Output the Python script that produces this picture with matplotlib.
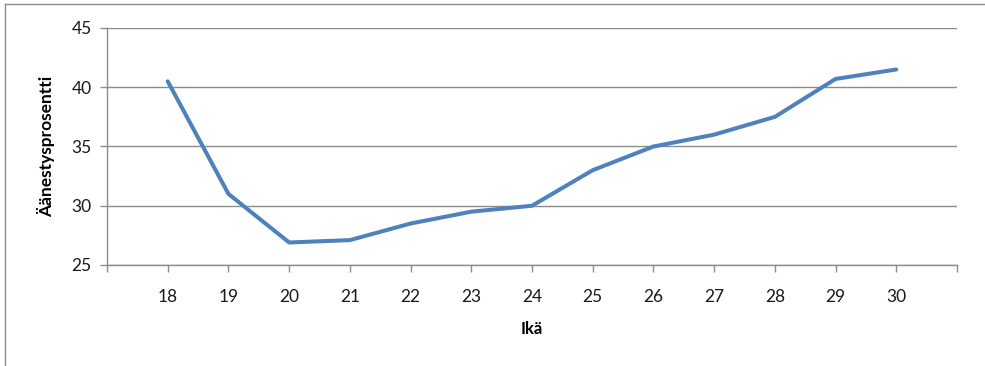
import numpy as np
import matplotlib.pyplot as plt
from matplotlib.lines import Line2D

# turnout by age
ages = [18, 19, 20, 21, 22, 23, 24, 25, 26, 27, 28, 29, 30]
turnout = [40.5, 31.0, 26.9, 27.1, 28.5, 29.5, 30.0, 33.0, 35.0, 36.0, 37.5, 40.7, 41.5]
yticks = [25, 30, 35, 40, 45]

plt.rcParams['font.family'] = ['Lato', 'DejaVu Sans']

fig = plt.figure(figsize=(9.85, 3.66), dpi=100)
ax = fig.add_axes([107/985, 1 - 265/366, (957 - 107)/985, (265 - 28)/366])

ax.plot(ages, turnout, color='#4F81BD', lw=2.9, solid_joinstyle='round', solid_capstyle='round', zorder=3)

ax.set_xlim(17, 31)
ax.set_ylim(25, 45)
ax.set_yticks(yticks)
ax.set_xticks(range(17, 32))
ax.set_xticklabels([''] + [str(a) for a in ages] + [''])
ax.grid(axis='y', color='#8c8c8c', lw=1)
ax.set_axisbelow(True)

for s in ['top', 'right']:
    ax.spines[s].set_visible(False)
for s in ['left', 'bottom']:
    ax.spines[s].set_color('#8c8c8c')
    ax.spines[s].set_linewidth(1)

ax.tick_params(axis='both', direction='out', length=5, width=1, color='#8c8c8c',
               labelsize=12.5, labelcolor='#1a1a1a')
ax.tick_params(axis='x', pad=12)
ax.tick_params(axis='y', pad=6)

ax.set_xlabel('Ikä', fontsize=12, fontweight='bold', labelpad=12)
ax.set_ylabel('Äänestysprosentti', fontsize=12.5, fontweight='bold', labelpad=12)

# chart frame
fig.add_artist(Line2D([5/985, 5/985], [0, 1 - 4/366], transform=fig.transFigure, color='#8c8c8c', lw=1))
fig.add_artist(Line2D([5/985, 1], [1 - 4/366, 1 - 4/366], transform=fig.transFigure, color='#8c8c8c', lw=1))

fig.savefig('out.png', dpi=100)
